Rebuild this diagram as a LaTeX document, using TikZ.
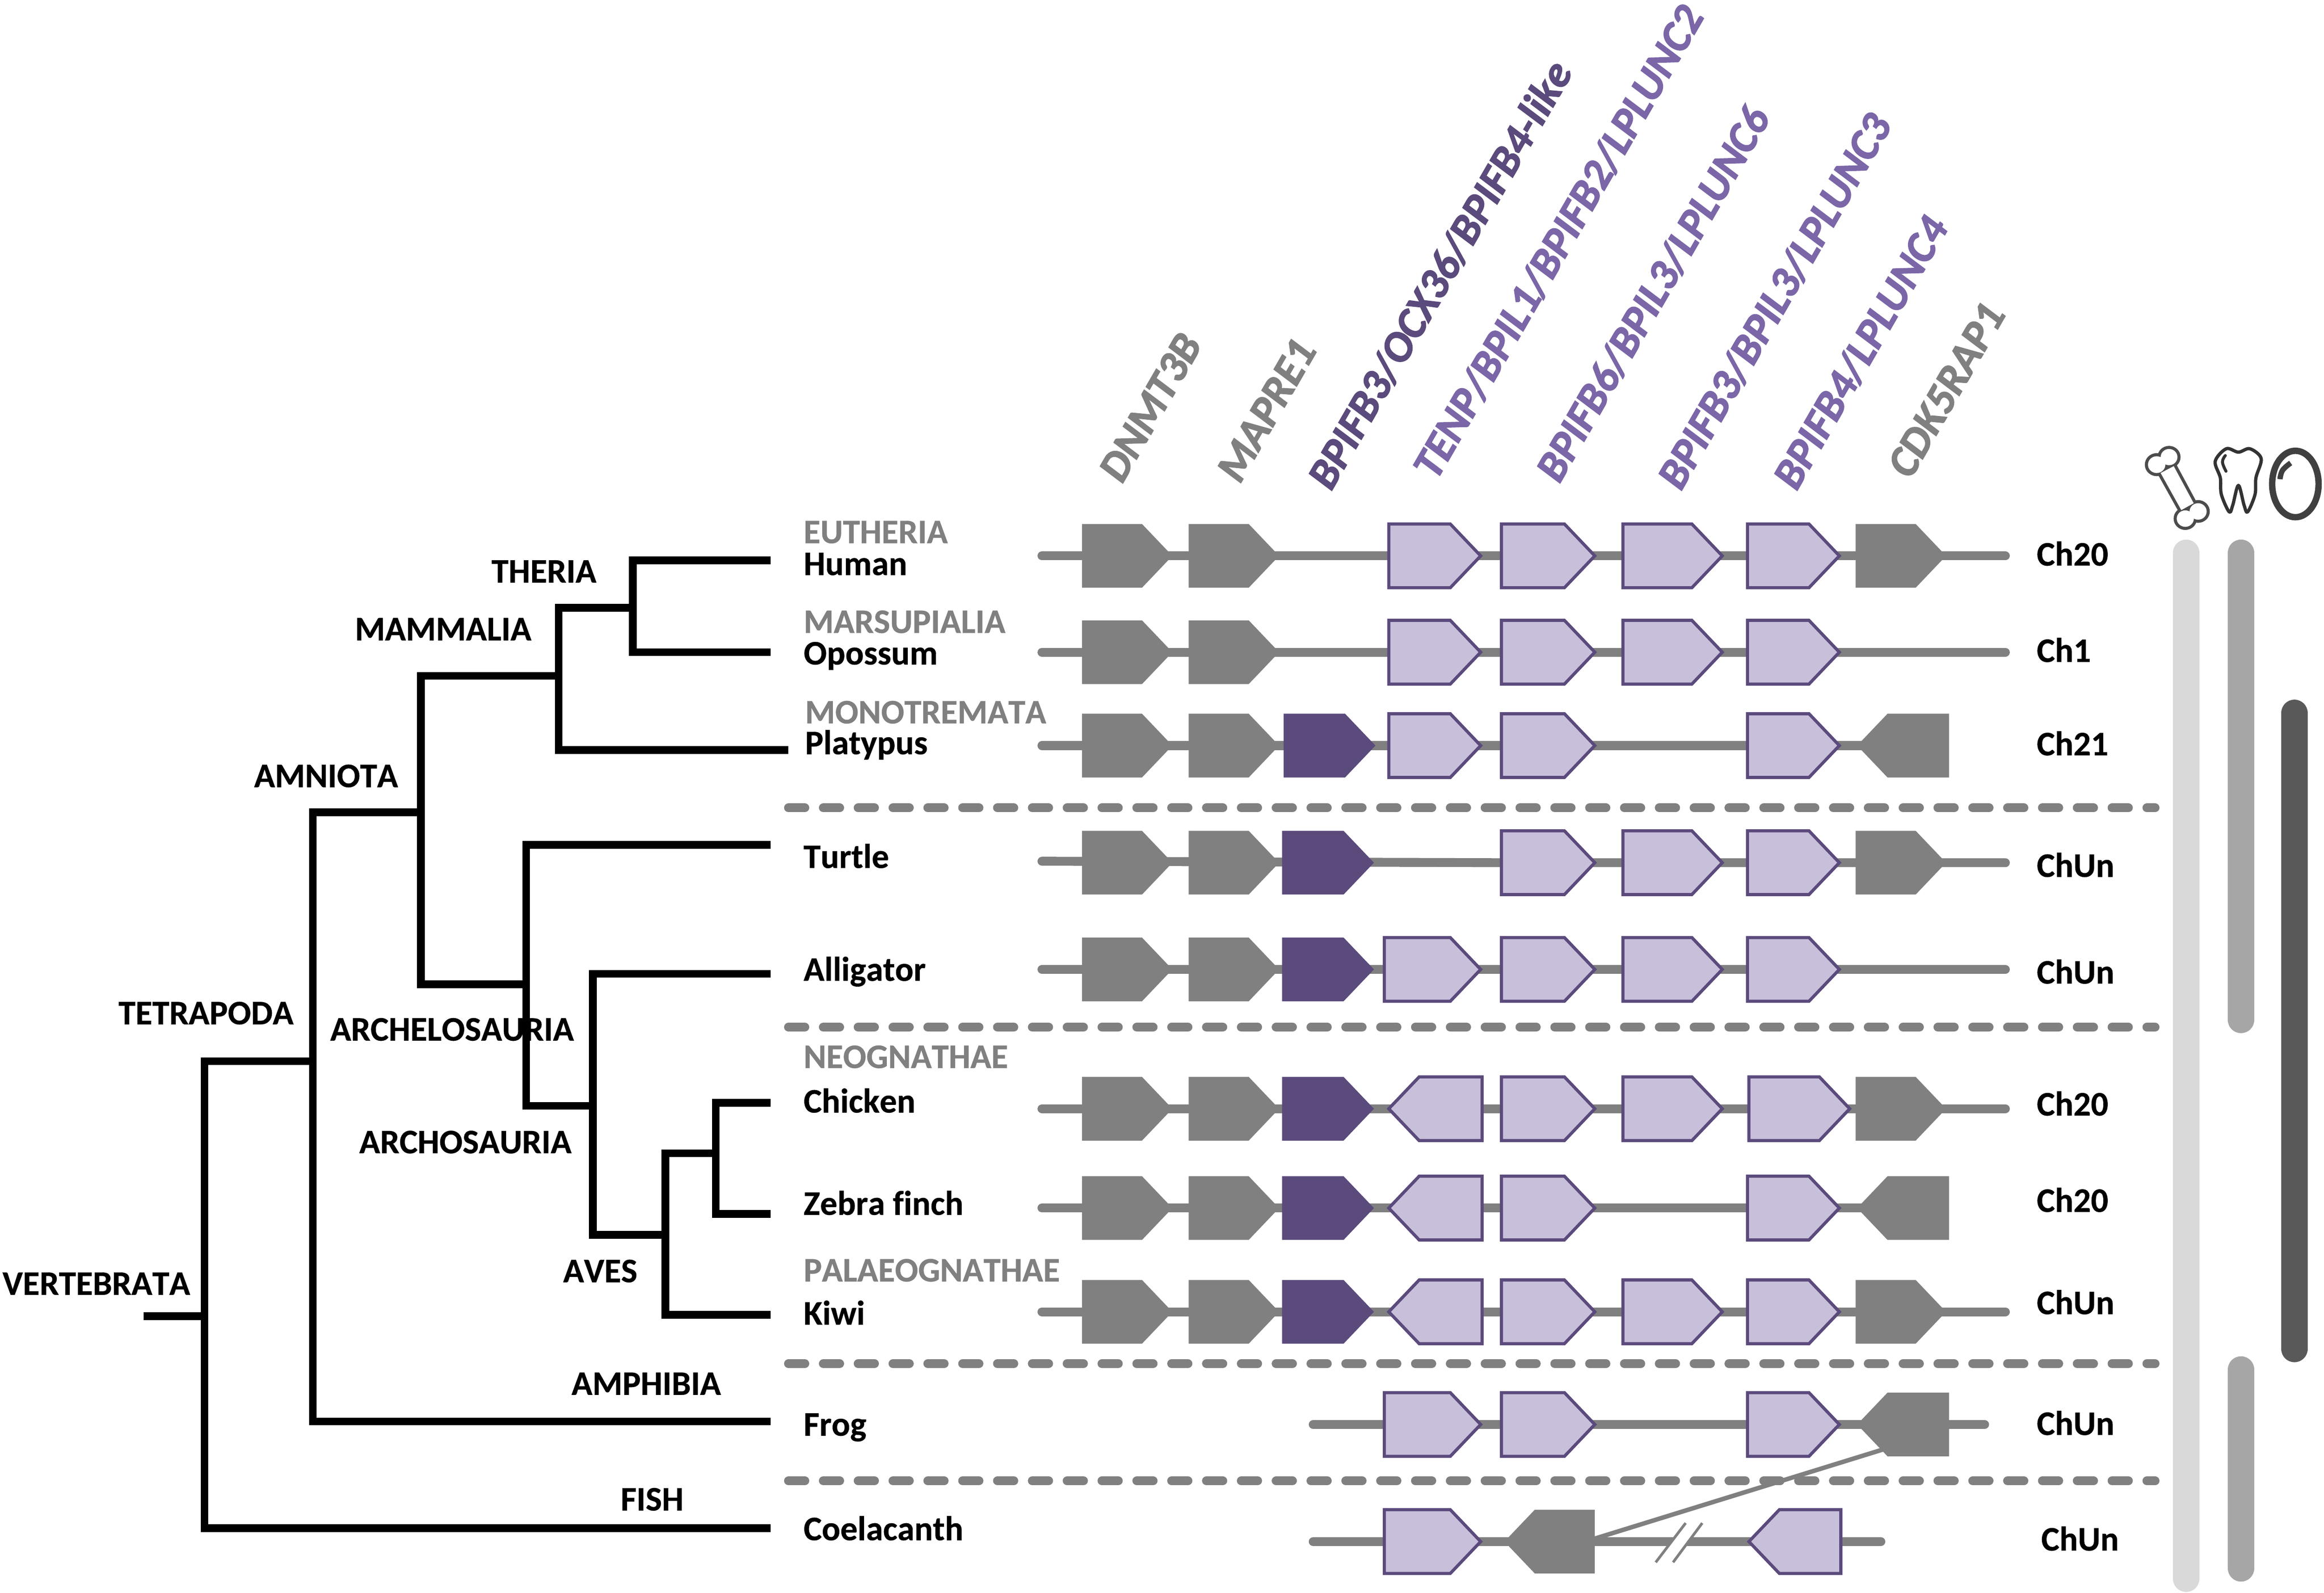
\documentclass[tikz,border=0pt]{standalone}
\usepackage{fontspec}
\setmainfont{Carlito}[Kerning=Off,Ligatures=NoCommon,BoldFeatures={FakeBold=0.5},BoldItalicFeatures={FakeBold=2}]
\definecolor{gr}{HTML}{808080}
\definecolor{lp}{HTML}{C8BFDA}
\definecolor{dp}{HTML}{5B4A7C}
\definecolor{tp}{HTML}{7B66A8}
\tikzset{
  tree/.style={draw=black,line width=5.2pt,line join=miter},
  lbl/.style={font=\fontsize{23.2}{23.2}\selectfont\bfseries,inner sep=0pt,anchor=west},
  tax/.style={lbl,text=gr},
  clade/.style={font=\fontsize{23.2}{23.2}\selectfont\bfseries,inner sep=0pt},
  genelbl/.style={font=\fontsize{29.3}{29.3}\selectfont\bfseries\itshape,inner sep=0pt,anchor=base west,rotate=60},
  backbone/.style={draw=gr,line width=6pt,line cap=round},
  sep/.style={draw=gr,line width=6pt,line cap=round,dash pattern=on 11pt off 12.5pt},
  gg/.style={fill=gr},
  gd/.style={fill=dp},
  gl/.style={fill=lp,draw=dp,line width=2.1pt},
  bar/.style={line width=18pt,line cap=round},
}
% right-pointing gene: style, x0, x1, y
\newcommand{\geneR}[4]{\path[#1] (#2,#4-21.5) -- (#3-20.5,#4-21.5) -- (#3,#4) -- (#3-20.5,#4+21.5) -- (#2,#4+21.5) -- cycle;}
% left-pointing gene
\newcommand{\geneL}[4]{\path[#1] (#3,#4-21.5) -- (#2+20.5,#4-21.5) -- (#2,#4) -- (#2+20.5,#4+21.5) -- (#3,#4+21.5) -- cycle;}
\begin{document}
\begin{tikzpicture}[x=1pt,y=-1pt]
\useasboundingbox (0,0) rectangle (1568,1074.4);
% tree coordinates
\coordinate (root) at (97,888);
\coordinate (j0) at (138,888);
\coordinate (j1) at (211,716);
\coordinate (j2) at (284,548);
\coordinate (j3) at (377,456);
\coordinate (j4) at (355,664);
\coordinate (j5) at (427,410);
\coordinate (j6) at (400,746);
\coordinate (j7) at (449,833);
\coordinate (j8) at (483,778);
\coordinate (human) at (520,378);
\coordinate (opossum) at (520,440);
\coordinate (platypus) at (532,506);
\coordinate (turtle) at (520,570);
\coordinate (alligator) at (520,657);
\coordinate (chicken) at (520,744);
\coordinate (zebra) at (520,819);
\coordinate (kiwi) at (520,887);
\coordinate (frog) at (520,959);
\coordinate (fish) at (520,1031);
\draw[tree] (root) -- (j0);
\draw[tree] (j1) -| (j0) |- (fish);
\draw[tree] (j2) -| (j1) |- (frog);
\draw[tree] (j3) -| (j2) |- (j4);
\draw[tree] (j5) -| (j3) |- (platypus);
\draw[tree] (human) -| (j5) |- (opossum);
\draw[tree] (turtle) -| (j4) |- (j6);
\draw[tree] (alligator) -| (j6) |- (j7);
\draw[tree] (j8) -| (j7) |- (kiwi);
\draw[tree] (chicken) -| (j8) |- (zebra);
% clade labels
\node[clade] (cVert) at (65,866) {VERTEBRATA};
\node[clade] (cTetra) at (139,683.5) {TETRAPODA};
\node[clade] (cAmn) at (220,523.5) {AMNIOTA};
\node[clade] (cMam) at (299,424.5) {MAMMALIA};
\node[clade] (cThe) at (367,385.5) {THERIA};
\node[clade] (cArchel) at (305,694.5) {ARCHELOSAURIA};
\node[clade] (cArchos) at (314,770.5) {ARCHOSAURIA};
\node[clade] (cAves) at (405,857.5) {AVES};
\node[clade] (cAmph) at (436,933.5) {AMPHIBIA};
\node[clade] (cFish) at (440,1011.5) {FISH};
% taxa
\node[tax] (tEu) at (542,359) {EUTHERIA};
\node[lbl] (tHu) at (542,380.5) {Human};
\node[tax] (tMa) at (542,419.5) {MARSUPIALIA};
\node[lbl] (tOp) at (542,442.5) {Opossum};
\node[tax] (tMo) at (543,480.5) {MONOTREMATA};
\node[lbl] (tPl) at (543,502.5) {Platypus};
\node[lbl] (tTu) at (542,577.5) {Turtle};
\node[lbl] (tAl) at (542,655.5) {Alligator};
\node[tax] (tNe) at (542,713) {NEOGNATHAE};
\node[lbl] (tCh) at (542,742.5) {Chicken};
\node[lbl] (tZe) at (542,811.5) {Zebra finch};
\node[tax] (tPa) at (542,857) {PALAEOGNATHAE};
\node[lbl] (tKi) at (542,885.5) {Kiwi};
\node[lbl] (tFr) at (542,963) {Frog};
\node[lbl] (tCo) at (542,1031) {Coelacanth};
% chromosome labels
\node[lbl] (c1) at (1374,373.5) {Ch20};
\node[lbl] (c2) at (1374,438.5) {Ch1};
\node[lbl] (c3) at (1374,501.5) {Ch21};
\node[lbl] (c4) at (1374,583.5) {ChUn};
\node[lbl] (c5) at (1374,655.5) {ChUn};
\node[lbl] (c6) at (1374,744.5) {Ch20};
\node[lbl] (c7) at (1374,809.5) {Ch20};
\node[lbl] (c8) at (1374,878.5) {ChUn};
\node[lbl] (c9) at (1374,960) {ChUn};
\node[lbl] (c10) at (1377,1038) {ChUn};
% gene labels
\node[genelbl,text=gr] (g1) at (757,327) {DNMT3B};
\node[genelbl,text=gr] (g2) at (836.5,327) {MAPRE1};
\node[genelbl,text=dp] (g3) at (898,332) {BPIFB3/OCX36/BPIFB4-like};
\node[genelbl,text=tp] (g4) at (969,325) {TENP/BPIL1/BPIFB2/LPLUNC2};
\node[genelbl,text=tp] (g5) at (1052,327) {BPIFB6/BPIL3/LPLUNC6};
\node[genelbl,text=tp] (g6) at (1134,332) {BPIFB3/BPIL3/LPLUNC3};
\node[genelbl,text=tp] (g7) at (1212,332) {BPIFB4/LPLUNC4};
\node[genelbl,text=gr] (g8) at (1289,324) {CDK5RAP1};
% separators
\coordinate (s1a) at (532,545); \coordinate (s1b) at (1454,545);
\coordinate (s2a) at (532,693); \coordinate (s2b) at (1454,693);
\coordinate (s3a) at (532,920); \coordinate (s3b) at (1454,920);
\coordinate (s4a) at (532,999); \coordinate (s4b) at (1454,999);
\draw[sep] (s1a) -- (s1b);
\draw[sep] (s2a) -- (s2b);
\draw[sep] (s3a) -- (s3b);
\draw[sep] (s4a) -- (s4b);
% backbones
\draw[backbone] (703,375) -- (1353,375);
\draw[backbone] (703,440) -- (1353,440);
\draw[backbone] (703,503) -- (1311,503);
\draw[backbone] (703,581) -- (1015,582) -- (1353,582);
\draw[backbone] (703,654) -- (1353,654);
\draw[backbone] (703,748) -- (1353,748);
\draw[backbone] (703,815) -- (1311,815);
\draw[backbone] (703,885) -- (1353,885);
\draw[backbone] (886,961) -- (1339,961);
\draw[backbone] (886,1040) -- (1269,1040);
% rows
\foreach \y in {375,440,503,582,654,748,815,885}{
  \geneR{gg}{730}{791}{\y}
  \geneR{gg}{802}{863}{\y}
}
% Human
\geneR{gl}{937}{999}{375}\geneR{gl}{1013}{1076}{375}\geneR{gl}{1095}{1162}{375}\geneR{gl}{1179}{1241}{375}\geneR{gg}{1252}{1313}{375}
% Opossum
\geneR{gl}{937}{999}{440}\geneR{gl}{1013}{1076}{440}\geneR{gl}{1095}{1162}{440}\geneR{gl}{1179}{1241}{440}
% Platypus
\geneR{gd}{866}{928}{503}\geneR{gl}{937}{999}{503}\geneR{gl}{1013}{1076}{503}\geneR{gl}{1179}{1241}{503}\geneL{gg}{1253}{1315}{503}
% Turtle
\geneR{gd}{865}{927}{582}\geneR{gl}{1013}{1076}{582}\geneR{gl}{1095}{1162}{582}\geneR{gl}{1179}{1241}{582}\geneR{gg}{1252}{1313}{582}
% Alligator
\geneR{gd}{865}{927}{654}\geneR{gl}{934}{999}{654}\geneR{gl}{1013}{1076}{654}\geneR{gl}{1095}{1162}{654}\geneR{gl}{1179}{1241}{654}
% Chicken
\geneR{gd}{865}{927}{748}\geneL{gl}{937}{1000}{748}\geneR{gl}{1013}{1076}{748}\geneR{gl}{1095}{1162}{748}\geneR{gl}{1180}{1248}{748}\geneR{gg}{1252}{1313}{748}
% Zebra finch
\geneR{gd}{865}{927}{815}\geneL{gl}{937}{1000}{815}\geneR{gl}{1013}{1076}{815}\geneR{gl}{1179}{1241}{815}\geneL{gg}{1253}{1315}{815}
% Kiwi
\geneR{gd}{865}{927}{885}\geneL{gl}{937}{1000}{885}\geneR{gl}{1013}{1076}{885}\geneR{gl}{1095}{1162}{885}\geneR{gl}{1179}{1241}{885}\geneR{gg}{1252}{1313}{885}
% Frog
\geneR{gl}{934}{999}{961}\geneR{gl}{1013}{1076}{961}\geneR{gl}{1179}{1241}{961}\geneL{gg}{1253}{1315}{961}
% Coelacanth
\geneR{gl}{934}{999}{1040}\geneL{gg}{1015}{1076}{1040}\geneL{gl}{1180}{1242}{1040}
% break mark
\coordinate (b1a) at (1137.3,1027.5); \coordinate (b1b) at (1117.1,1054);
\coordinate (b2a) at (1148.5,1027.5); \coordinate (b2b) at (1128.8,1054);
\fill[white] (b1a) -- (b2a) -- (b2b) -- (b1b) -- cycle;
\draw[gr,line width=1.8pt] (b1a) -- (b1b);
\draw[gr,line width=1.8pt] (b2a) -- (b2b);
% connector
\coordinate (conA) at (1076,1038);
\coordinate (conB) at (1270,978);
\draw[gr,line width=3pt] (conA) -- (conB);
% bars
\draw[bar,draw=black!15] (1475,373) -- (1475,1065);
\draw[bar,draw=black!35] (1512,373) -- (1512,688);
\draw[bar,draw=black!35] (1512,924) -- (1512,1058);
\draw[bar,draw=black!65] (1548,481) -- (1548,910);
% icons (zoom-derived local frame)
\begin{scope}[shift={(1417.5,277.9)},x=.0961pt,y=-.0926pt]
  % bone: union outline
  \def\boneshapes{
    (391,384) ellipse [x radius=61,y radius=61]
    (478,329) ellipse [x radius=59,y radius=59]
    (592,777) ellipse [x radius=60,y radius=60]
    (682,725) ellipse [x radius=60,y radius=60]
    (419,445) -- (564,715) -- (651,665) -- (511,395) -- cycle
  }
  \draw[draw=black!70,line width=4.2pt] \boneshapes;
  \fill[white] \boneshapes;
  % tooth
  \draw[draw=black!80,line width=2.2pt,fill=white,line join=round] plot[smooth cycle,tension=.55] coordinates {(965,293) (1045,268) (1125,340) (1088,480) (1082,600) (1030,728) (1005,680) (965,535) (925,680) (900,728) (845,600) (838,480) (802,360) (880,268)};
  \draw[draw=black!80,line width=2pt,line cap=round] plot[smooth,tension=.7] coordinates {(873,318) (853,365) (878,432)};
  % eye
  \draw[draw=black!75,line width=4.3pt] (1365,525) ellipse [x radius=163,y radius=242];
  \draw[draw=black!75,line width=3.6pt] plot[smooth,tension=.7] coordinates {(1257,490) (1275,425) (1332,372)};
\end{scope}
\end{tikzpicture}
\end{document}
